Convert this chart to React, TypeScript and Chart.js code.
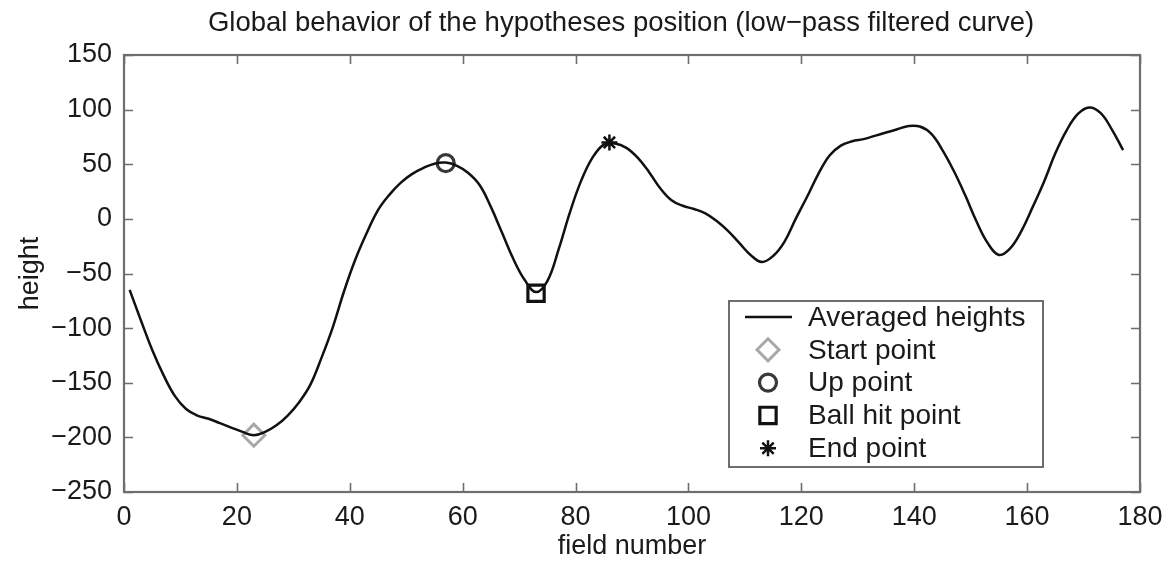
import React, { useEffect, useRef } from 'react';
import { Chart, registerables } from 'chart.js';
import * as helpers from 'chart.js/helpers';

Chart.register(...registerables);

const titleText = 'Global behavior of the hypotheses position (low\u2212pass filtered curve)';
const xAxisLabel = 'field number';
const yAxisLabel = 'height';

const xTicks = [0, 20, 40, 60, 80, 100, 120, 140, 160, 180];
const yTicks = [-250, -200, -150, -100, -50, 0, 50, 100, 150];

const lineName = 'Averaged heights';
const fieldNumbers = [
  1, 3, 5, 7, 9, 11, 13, 15, 17, 19, 21, 23, 25, 27, 29, 31, 33, 35, 37, 39,
  41, 43, 45, 47, 49, 51, 53, 55, 57, 59, 61, 63, 65, 67, 69, 71, 73, 75, 77, 79,
  81, 83, 85, 87, 89, 91, 93, 95, 97, 99, 101, 103, 105, 107, 109, 111, 113, 115, 117, 119,
  121, 123, 125, 127, 129, 131, 133, 135, 137, 139, 141, 143, 145, 147, 149, 151, 153, 155, 157, 159,
  161, 163, 165, 167, 169, 171, 173, 175, 177,
];
const heights = [
  -65, -93, -120, -143, -162, -174, -180, -183, -187, -191, -195, -198, -195, -189, -180, -168, -152, -127, -99, -66,
  -37, -13, 8, 22, 33, 41, 46.5, 50.5, 51.5, 48.5, 42, 31, 11, -13, -37, -56, -67, -57, -28, 6,
  35, 56, 68, 69, 65, 56, 43, 28, 17, 12, 9, 5, -2, -11, -22, -33, -39.5, -34, -21, 0,
  20, 41, 58, 67, 71, 73, 76, 79, 82, 85, 84.5, 78, 63, 44, 22, -2, -22, -33, -27, -11,
  11, 34, 60, 81, 96, 102, 97, 82, 63,
];

const markerNames = ['Start point', 'Up point', 'Ball hit point', 'End point'];
const markerFields = [23, 57, 73, 86];
const markerHeights = [-198, 51, -68, 70];

const markerStyles = [
  { pointStyle: 'rectRot', radius: 11, color: '#a8a8a8', width: 3 },
  { pointStyle: 'circle', radius: 8.5, color: '#383838', width: 3.2 },
  { pointStyle: 'rect', radius: 11.5, color: '#111111', width: 3.2 },
  { pointStyle: 'star', radius: 8, color: '#111111', width: 2.5 },
];

const FONT = '"Liberation Sans", Arial, Helvetica, sans-serif';

const titlePlugin = {
  id: 'customTitle',
  afterDraw(chart: any) {
    const { ctx, chartArea } = chart;
    ctx.save();
    ctx.font = `27.5px ${FONT}`;
    ctx.fillStyle = '#1a1a1a';
    ctx.textAlign = 'center';
    ctx.textBaseline = 'middle';
    ctx.fillText(titleText, (chartArea.left + chartArea.right) / 2 - 11, 23);
    ctx.restore();
  },
};

const framePlugin = {
  id: 'frame',
  afterDatasetsDraw(chart: any) {
    const { ctx, chartArea, scales } = chart;
    const { left, right, top, bottom } = chartArea;
    const x = scales.x;
    const y = scales.y;
    ctx.save();
    ctx.strokeStyle = '#6e6e6e';
    ctx.lineWidth = 1.6;
    ctx.beginPath();
    const tl = 9;
    xTicks.forEach((v) => {
      const px = Math.round(x.getPixelForValue(v)) + 0.5;
      ctx.moveTo(px, bottom);
      ctx.lineTo(px, bottom - tl);
      ctx.moveTo(px, top);
      ctx.lineTo(px, top + tl);
    });
    yTicks.forEach((v) => {
      const py = Math.round(y.getPixelForValue(v)) + 0.5;
      ctx.moveTo(left, py);
      ctx.lineTo(left + tl, py);
      ctx.moveTo(right, py);
      ctx.lineTo(right - tl, py);
    });
    ctx.stroke();
    ctx.lineWidth = 2.2;
    ctx.strokeRect(left, top, right - left, bottom - top);
    ctx.restore();
  },
};

const legendPlugin = {
  id: 'insideLegend',
  afterDraw(chart: any) {
    const { ctx, chartArea } = chart;
    const bx = chartArea.left + 605;
    const by = chartArea.top + 246;
    const bw = 314;
    const bh = 166;
    ctx.save();
    ctx.fillStyle = '#ffffff';
    ctx.fillRect(bx, by, bw, bh);
    ctx.strokeStyle = '#6e6e6e';
    ctx.lineWidth = 2;
    ctx.strokeRect(bx, by, bw, bh);

    const rowY0 = by + 16;
    const rowStep = 32.8;
    const symX = bx + 39;
    const textX = bx + 79;

    ctx.font = `28px ${FONT}`;
    ctx.textAlign = 'left';
    ctx.textBaseline = 'middle';

    ctx.strokeStyle = '#111111';
    ctx.lineWidth = 2.5;
    ctx.beginPath();
    ctx.moveTo(bx + 16, rowY0);
    ctx.lineTo(bx + 63, rowY0);
    ctx.stroke();
    ctx.fillStyle = '#1a1a1a';
    ctx.fillText(lineName, textX, rowY0 + 1);

    markerNames.forEach((name, i) => {
      const st = markerStyles[i];
      const yy = rowY0 + rowStep * (i + 1);
      ctx.strokeStyle = st.color;
      ctx.fillStyle = 'rgba(0,0,0,0)';
      ctx.lineWidth = st.width;
      helpers.drawPoint(ctx, { pointStyle: st.pointStyle, radius: st.radius, rotation: 0, borderWidth: st.width }, symX, yy);
      ctx.fillStyle = '#1a1a1a';
      ctx.fillText(name, textX, yy + 1);
    });
    ctx.restore();
  },
};

export default function App() {
  const canvasRef = useRef<HTMLCanvasElement | null>(null);

  useEffect(() => {
    if (!canvasRef.current) return;
    const lineData = fieldNumbers.map((f, i) => ({ x: f, y: heights[i] }));
    const markerSets = markerNames.map((name, i) => ({
      type: 'scatter' as const,
      label: name,
      data: [{ x: markerFields[i], y: markerHeights[i] }],
      showLine: false,
      pointStyle: markerStyles[i].pointStyle as any,
      pointRadius: markerStyles[i].radius,
      pointBorderWidth: markerStyles[i].width,
      pointBorderColor: markerStyles[i].color,
      pointBackgroundColor: 'rgba(0,0,0,0)',
      borderColor: markerStyles[i].color,
      backgroundColor: 'rgba(0,0,0,0)',
    }));

    const chart = new Chart(canvasRef.current, {
      type: 'line',
      data: {
        datasets: [
          {
            label: lineName,
            data: lineData,
            borderColor: '#111111',
            borderWidth: 2.5,
            pointRadius: 0,
            fill: false,
            tension: 0.4,
          } as any,
          ...markerSets,
        ],
      },
      options: {
        responsive: false,
        animation: false,
        layout: { padding: { top: 55, right: 34, left: 0, bottom: 0 } },
        plugins: {
          legend: { display: false },
          title: { display: false },
          tooltip: { enabled: false },
        },
        scales: {
          x: {
            type: 'linear',
            min: 0,
            max: 180,
            afterFit: (scale: any) => {
              scale.height = 71;
            },
            afterBuildTicks: (scale: any) => {
              scale.ticks = xTicks.map((v) => ({ value: v }));
            },
            grid: { display: false, drawTicks: false },
            border: { display: false },
            ticks: {
              padding: 9,
              color: '#1a1a1a',
              font: { family: FONT, size: 27 },
              maxRotation: 0,
              callback: (v: any) => String(v),
            },
            title: {
              display: true,
              text: xAxisLabel,
              color: '#1a1a1a',
              font: { family: FONT, size: 27 },
              padding: { top: 0, bottom: 0 },
            },
          },
          y: {
            type: 'linear',
            min: -250,
            max: 150,
            afterFit: (scale: any) => {
              scale.width = 124;
            },
            afterBuildTicks: (scale: any) => {
              scale.ticks = yTicks.map((v) => ({ value: v }));
            },
            grid: { display: false, drawTicks: false },
            border: { display: false },
            ticks: {
              padding: 12,
              color: '#1a1a1a',
              font: { family: FONT, size: 27 },
              callback: (v: any) => String(v).replace('-', '\u2212'),
            },
            title: {
              display: true,
              text: yAxisLabel,
              color: '#1a1a1a',
              font: { family: FONT, size: 27 },
              padding: { top: 14, bottom: 0 },
            },
          },
        },
      },
      plugins: [framePlugin, legendPlugin, titlePlugin],
    });
    return () => chart.destroy();
  }, []);

  return (
    <div style={{ position: 'fixed', left: 0, top: 0, width: 1174, height: 563, background: '#ffffff' }}>
      <canvas ref={canvasRef} width={1174} height={563} style={{ display: 'block' }} />
    </div>
  );
}
